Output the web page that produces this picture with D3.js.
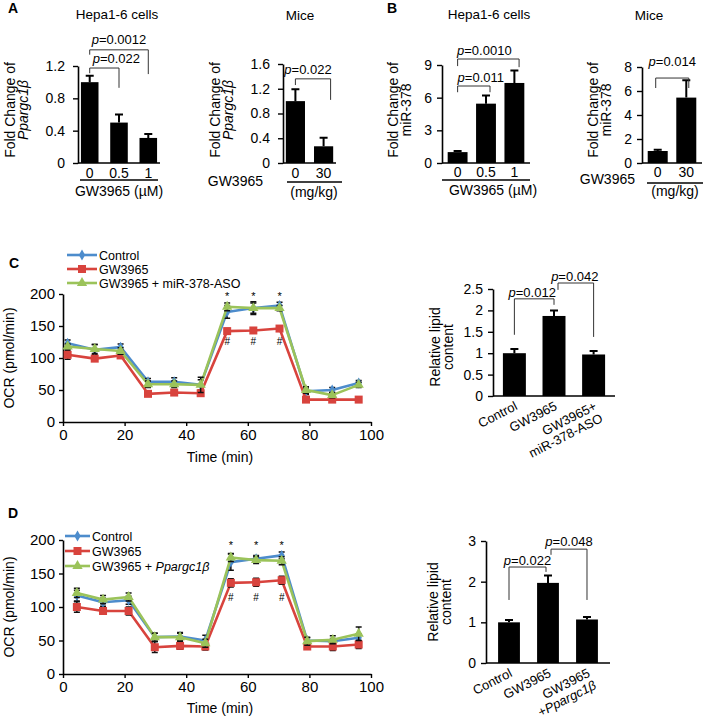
<!DOCTYPE html>
<html>
<head>
<meta charset="utf-8">
<script src="https://cdn.jsdelivr.net/npm/d3@7"></script>
<style>
  body { margin: 0; background: #fff; }
  svg { font-family: "Liberation Sans", Arial, sans-serif; }
</style>
</head>
<body>
<svg id="fig" width="709" height="720"></svg>
<script>
// ---- data ----
const doseCells = ["0", "0.5", "1"];
const doseMice = ["0", "30"];

const ppargcCells = [1.0, 0.5, 0.31];
const ppargcCellsErr = [0.08, 0.1, 0.05];
const ppargcMice = [1.0, 0.27];
const ppargcMiceErr = [0.19, 0.14];

const mirCells = [1.0, 5.45, 7.35];
const mirCellsErr = [0.1, 0.75, 1.15];
const mirMice = [1.0, 5.45];
const mirMiceErr = [0.1, 1.45];

const pPpargcCells = ["0.022", "0.0012"];
const pPpargcMice = ["0.022"];
const pMirCells = ["0.011", "0.0010"];
const pMirMice = ["0.014"];

const timeC = [1.5, 10.3, 18.7, 27.6, 36.1, 44.7, 53.3, 61.8, 70.3, 78.9, 87.4, 96.0];
const ocrCtrlC = [123, 113, 117, 63, 63, 58, 172, 178, 182, 48, 50, 61];
const ocrCtrlCErr = [5, 8, 5, 5, 6, 8, 10, 8, 5, 5, 4, 4];
const ocrGwC = [105, 99, 104, 44, 46, 45, 142, 143, 146, 35, 35, 35];
const ocrGwCErr = [7, 4, 4, 3, 3, 3, 4, 4, 4, 3, 3, 3];
const ocrAsoC = [118, 114, 111, 59, 59, 58, 180, 178, 178, 50, 42, 58];
const ocrAsoCErr = [4, 7, 5, 5, 5, 12, 6, 10, 4, 5, 4, 4];

const timeD = [4.5, 13.0, 21.3, 29.8, 38.0, 46.2, 54.5, 62.7, 71.0, 79.3, 87.6, 96.0];
const ocrCtrlD = [117, 107, 110, 55, 56, 50, 167, 172, 177, 50, 49, 54];
const ocrCtrlDErr = [8, 6, 6, 6, 6, 8, 12, 5, 5, 4, 4, 6];
const ocrGwD = [100, 94, 94, 40, 42, 41, 136, 137, 140, 41, 41, 44];
const ocrGwDErr = [8, 5, 6, 8, 5, 5, 6, 6, 6, 4, 6, 6];
const ocrPgcD = [121, 111, 115, 55, 55, 46, 174, 170, 169, 49, 51, 60];
const ocrPgcDErr = [7, 6, 6, 6, 6, 6, 6, 5, 6, 6, 6, 10];
const markedPoints = [6, 7, 8];

const lipidCatsC = ["Control", "GW3965", "GW3965+\nmiR-378-ASO"];
const lipidC = [1.0, 1.87, 0.97];
const lipidCErr = [0.1, 0.13, 0.08];
const pLipidC = ["0.012", "0.042"];

const lipidCatsD = ["Control", "GW3965", "GW3965\n+Ppargc1β"];
const lipidD = [1.0, 1.97, 1.07];
const lipidDErr = [0.06, 0.18, 0.06];
const pLipidD = ["0.022", "0.048"];

const seriesC = ["Control", "GW3965", "GW3965 + miR-378-ASO"];
const seriesD = ["Control", "GW3965", "GW3965 + Ppargc1β"];

// ---- drawing ----
const svg = d3.select("#fig");
const BLUE = "#4d8ccc", RED = "#d8433d", GREEN = "#9bc35a";

// writes a string, setting gene name and the p of p-values in italics
function rich(sel, str) {
  str.split(/(Ppargc1β|p(?==))/).filter(s => s.length).forEach(s => {
    const t = sel.append("tspan").text(s);
    if (s === "Ppargc1β" || s === "p") t.style("font-style", "italic");
  });
  return sel;
}

function label(x, y, str, size, anchor) {
  const t = svg.append("text").attr("x", x).attr("y", y)
    .attr("text-anchor", anchor || "middle").style("font-size", size + "px");
  return rich(t, str);
}

function yLabel(cx, cy, lines, size) {
  const t = svg.append("text").attr("transform", `translate(${cx},${cy}) rotate(-90)`)
    .attr("text-anchor", "middle").style("font-size", size + "px");
  lines.forEach((ln, i) => {
    const row = t.append("tspan").attr("x", 0).attr("dy", i === 0 ? 0 : "0.95em");
    rich(row, ln);
  });
}

function barPanel(o) {
  const g = svg.append("g");
  const x = d3.scaleBand().domain(o.cats).range([o.x0, o.x1]).paddingInner(o.pi).paddingOuter(o.po);
  const y = d3.scaleLinear().domain([0, o.max]).range([o.yBase, o.yTop]);
  const bw = x.bandwidth();
  const cx = i => x(o.cats[i]) + bw / 2;

  g.selectAll("rect.bar").data(o.values).join("rect").attr("class", "bar")
    .attr("x", (d, i) => x(o.cats[i])).attr("y", d => y(d))
    .attr("width", bw).attr("height", d => y(0) - y(d)).attr("fill", "#000");

  g.selectAll("path.err").data(o.values).join("path").attr("class", "err")
    .attr("d", (d, i) => `M${cx(i)},${y(d)}V${y(d + o.errs[i])}M${cx(i) - 4},${y(d + o.errs[i])}H${cx(i) + 4}`)
    .attr("stroke", "#000").attr("stroke-width", 2).attr("fill", "none");

  const ax = g.append("g").attr("transform", `translate(${o.x0},0)`)
    .call(d3.axisLeft(y).tickValues(o.ticks).tickSize(5).tickPadding(o.tp || 5).tickSizeOuter(0)
      .tickFormat(d => String(+d.toFixed(1))));
  ax.select(".domain").attr("stroke", "#000").attr("stroke-width", 1.6);
  ax.selectAll(".tick line").attr("stroke", "#000").attr("stroke-width", 1.4);
  ax.selectAll(".tick text").style("font-size", "14px").style("font-family", "inherit").attr("fill", "#000");

  g.append("line").attr("x1", o.x0).attr("x2", o.x1).attr("y1", y(0)).attr("y2", y(0))
    .attr("stroke", "#000").attr("stroke-width", 1.6);

  (o.brackets || []).forEach(b => {
    const xa = cx(b.a) + (b.oa || 0), xb = cx(b.b) + (b.ob || 0);
    g.append("path").attr("d", `M${xa},${y(b.la)}V${y(b.top)}H${xb}V${y(b.lb)}`)
      .attr("fill", "none").attr("stroke", "#333").attr("stroke-width", 1);
    const t = g.append("text").attr("x", (xa + xb) / 2 + (b.dx || 0)).attr("y", y(b.top) - b.gap)
      .attr("text-anchor", "middle").style("font-size", "13px");
    rich(t, "p=" + b.p);
  });

  if (o.tickLabels) {
    o.cats.forEach((c, i) => {
      g.append("text").attr("x", cx(i)).attr("y", o.tickY).attr("text-anchor", "middle")
        .style("font-size", "14px").text(c);
    });
  }
  if (o.rotLabels) {
    o.cats.forEach((c, i) => {
      const t = g.append("text")
        .attr("transform", `translate(${cx(i) + 4},${y(0) + 13}) rotate(-27)`)
        .attr("text-anchor", "end").style("font-size", "13px");
      c.split("\n").forEach((ln, k) => {
        const row = t.append("tspan").attr("x", 0).attr("dy", k === 0 ? 0 : "1.05em");
        rich(row, ln);
      });
    });
  }
  return { x, y };
}

function linePanel(o) {
  const g = svg.append("g");
  const x = d3.scaleLinear().domain([0, 100]).range([o.x0, o.x1]);
  const y = d3.scaleLinear().domain([0, 200]).range([o.yBase, o.yTop]);

  const ay = g.append("g").attr("transform", `translate(${o.x0},0)`)
    .call(d3.axisLeft(y).tickValues([0, 50, 100, 150, 200]).tickSize(4).tickPadding(4).tickSizeOuter(0));
  const ax = g.append("g").attr("transform", `translate(0,${o.yBase})`)
    .call(d3.axisBottom(x).tickValues([0, 20, 40, 60, 80, 100]).tickSize(4).tickPadding(3).tickSizeOuter(0));
  [ax, ay].forEach(a => {
    a.select(".domain").attr("stroke", "#000").attr("stroke-width", 1.6);
    a.selectAll(".tick line").attr("stroke", "#000").attr("stroke-width", 1.4);
    a.selectAll(".tick text").style("font-size", "15px").style("font-family", "inherit").attr("fill", "#000");
  });

  const colors = [BLUE, RED, GREEN];
  const shapes = [d3.symbolDiamond, d3.symbolSquare, d3.symbolTriangle];
  const sizes = [34, 64, 46];
  const line = d3.line().x((d, i) => x(o.time[i])).y(d => y(d));

  o.series.forEach((s, k) => {
    g.append("path").datum(s.values).attr("d", line).attr("fill", "none")
      .attr("stroke", colors[k]).attr("stroke-width", 2.6).attr("stroke-linejoin", "round");
    g.selectAll(null).data(s.values).join("path")
      .attr("d", (d, i) => {
        const px = x(o.time[i]), lo = y(d - s.errs[i]), hi = y(d + s.errs[i]);
        return `M${px},${lo}V${hi}M${px - 3},${hi}H${px + 3}M${px - 3},${lo}H${px + 3}`;
      })
      .attr("stroke", "#111").attr("stroke-width", 1.5).attr("fill", "none");
    g.selectAll(null).data(s.values).join("path")
      .attr("transform", (d, i) => `translate(${x(o.time[i])},${y(d)})`)
      .attr("d", d3.symbol().type(shapes[k]).size(sizes[k]))
      .attr("fill", colors[k]);
  });

  markedPoints.forEach(i => {
    g.append("text").attr("x", x(o.time[i])).attr("y", o.starY).attr("text-anchor", "middle")
      .style("font-size", "11px").text("*");
    g.append("text").attr("x", x(o.time[i])).attr("y", o.hashY).attr("text-anchor", "middle")
      .style("font-size", "10px").text("#");
  });

  // legend
  o.names.forEach((n, k) => {
    const ly = o.legY + k * o.legStep;
    g.append("line").attr("x1", o.legX).attr("x2", o.legX + o.legW).attr("y1", ly).attr("y2", ly)
      .attr("stroke", colors[k]).attr("stroke-width", 2.6);
    g.append("path").attr("transform", `translate(${o.legX + o.legW / 2},${ly})`)
      .attr("d", d3.symbol().type(shapes[k]).size(sizes[k])).attr("fill", colors[k]);
    const t = g.append("text").attr("x", o.legX + o.legW + 2).attr("y", ly + 4.5).style("font-size", "12.5px");
    rich(t, n);
  });

  label((o.x0 + o.x1) / 2 + 3, o.timeY, "Time (min)", 14);
  yLabel(14, (o.yBase + o.yTop) / 2, ["OCR (pmol/min)"], 14);
}

// panel letters
[["A", 8, 13], ["B", 387, 13], ["C", 9, 268], ["D", 8, 518]].forEach(([s, x, y]) =>
  svg.append("text").attr("x", x).attr("y", y).style("font-size", "14px").style("font-weight", "bold").text(s));

// ---- A ----
label(117, 19, "Hepa1-6 cells", 13.5);
label(300, 20, "Mice", 13.5);
barPanel({
  cats: doseCells, values: ppargcCells, errs: ppargcCellsErr,
  x0: 78, x1: 160, pi: 0.4, po: 0.1, yBase: 163, yTop: 66, max: 1.2, ticks: [0, 0.4, 0.8, 1.2], tp: 8,
  tickLabels: true, tickY: 178,
  brackets: [
    { a: 0, b: 1, top: 1.175, la: 1.11, lb: 0.93, p: pPpargcCells[0], dx: 12, gap: 5 },
    { a: 0, b: 2, top: 1.40, la: 1.34, lb: 1.10, p: pPpargcCells[1], dx: 0, gap: 6 }
  ]
});
svg.append("line").attr("x1", 80).attr("x2", 158).attr("y1", 180).attr("y2", 180).attr("stroke", "#000").attr("stroke-width", 1.4);
label(119, 196, "GW3965 (µM)", 14);
yLabel(15, 110, ["Fold Change of", "Ppargc1β"], 14);

barPanel({
  cats: doseMice, values: ppargcMice, errs: ppargcMiceErr,
  x0: 283, x1: 336, pi: 0.32, po: 0.1, yBase: 163, yTop: 64, max: 1.6, ticks: [0, 0.4, 0.8, 1.2, 1.6], tp: 8,
  tickLabels: true, tickY: 178,
  brackets: [{ a: 0, b: 1, top: 1.36, la: 1.26, lb: 1.02, ob: 7, p: pPpargcMice[0], dx: -5, gap: 5 }]
});
svg.append("line").attr("x1", 287).attr("x2", 342).attr("y1", 182).attr("y2", 182).attr("stroke", "#000").attr("stroke-width", 1.4);
label(263, 186, "GW3965", 14, "end");
label(314, 197, "(mg/kg)", 14);
yLabel(220, 110, ["Fold Change of", "Ppargc1β"], 14);

// ---- B ----
label(489, 19, "Hepa1-6 cells", 13.5);
label(649, 20, "Mice", 13.5);
barPanel({
  cats: doseCells, values: mirCells, errs: mirCellsErr,
  x0: 442, x1: 530, pi: 0.3, po: 0.2, yBase: 163, yTop: 65, max: 9, ticks: [0, 3, 6, 9], tp: 5,
  tickLabels: true, tickY: 177,
  brackets: [
    { a: 0, b: 1, top: 7.07, la: 6.5, lb: 6.5, ob: 4, p: pMirCells[0], dx: 7, gap: 4 },
    { a: 0, b: 2, top: 9.55, la: 8.9, lb: 8.8, ob: 4.7, p: pMirCells[1], dx: -4, gap: 4 }
  ]
});
svg.append("line").attr("x1", 442).attr("x2", 530).attr("y1", 180).attr("y2", 180).attr("stroke", "#000").attr("stroke-width", 1.4);
label(493, 195, "GW3965 (µM)", 14);
yLabel(398, 110, ["Fold Change of", "miR-378"], 14);

barPanel({
  cats: doseMice, values: mirMice, errs: mirMiceErr,
  x0: 642, x1: 702, pi: 0.3, po: 0.2, yBase: 163, yTop: 67, max: 8, ticks: [0, 2, 4, 6, 8], tp: 5,
  tickLabels: true, tickY: 177,
  brackets: [{ a: 0, b: 1, top: 7.08, la: 6.25, lb: 6.25, oa: -2, ob: 2.5, p: pMirMice[0], dx: 0, gap: 12 }]
});
svg.append("line").attr("x1", 647).attr("x2", 703).attr("y1", 183).attr("y2", 183).attr("stroke", "#000").attr("stroke-width", 1.4);
label(635, 184, "GW3965", 14, "end");
label(675, 196, "(mg/kg)", 14);
yLabel(598, 110, ["Fold Change of", "miR-378"], 14);

// ---- C ----
linePanel({
  x0: 63, x1: 371, yBase: 422, yTop: 294, time: timeC,
  series: [
    { values: ocrCtrlC, errs: ocrCtrlCErr },
    { values: ocrGwC, errs: ocrGwCErr },
    { values: ocrAsoC, errs: ocrAsoCErr }
  ],
  names: seriesC, legX: 67, legW: 30, legY: 255, legStep: 14,
  starY: 300, hashY: 345, timeY: 462
});
barPanel({
  cats: lipidCatsC, values: lipidC, errs: lipidCErr,
  x0: 493, x1: 615, pi: 0.42, po: 0.25, yBase: 396, yTop: 289, max: 2.5, ticks: [0, 0.5, 1, 1.5, 2, 2.5], tp: 5,
  rotLabels: true,
  brackets: [
    { a: 0, b: 1, top: 2.27, la: 1.43, lb: 2.13, p: pLipidC[0], dx: -2, gap: 2 },
    { a: 1, b: 2, top: 2.64, la: 2.48, lb: 1.38, oa: 4, p: pLipidC[1], dx: -1, gap: 2 }
  ]
});
yLabel(440, 347, ["Relative lipid", "content"], 14);

// ---- D ----
linePanel({
  x0: 63, x1: 371, yBase: 674, yTop: 540, time: timeD,
  series: [
    { values: ocrCtrlD, errs: ocrCtrlDErr },
    { values: ocrGwD, errs: ocrGwDErr },
    { values: ocrPgcD, errs: ocrPgcDErr }
  ],
  names: seriesD, legX: 65, legW: 25, legY: 536, legStep: 15,
  starY: 549, hashY: 601, timeY: 713
});
barPanel({
  cats: lipidCatsD, values: lipidD, errs: lipidDErr,
  x0: 486, x1: 610, pi: 0.44, po: 0.31, yBase: 663, yTop: 541, max: 3, ticks: [0, 1, 2, 3], tp: 5,
  rotLabels: true,
  brackets: [
    { a: 0, b: 1, top: 2.36, la: 1.55, lb: 2.24, ob: -2, p: pLipidD[0], dx: 0, gap: 2 },
    { a: 1, b: 2, top: 2.80, la: 2.66, lb: 1.55, oa: 3, p: pLipidD[1], dx: 0, gap: 3 }
  ]
});
yLabel(438, 602, ["Relative lipid", "content"], 14);
</script>
</body>
</html>
